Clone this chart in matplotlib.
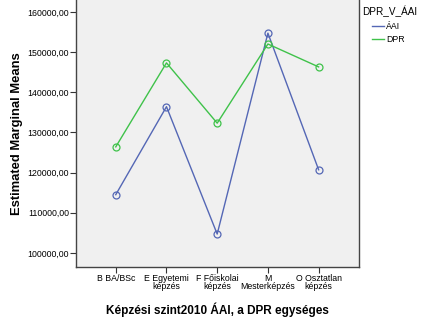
import numpy as np
import matplotlib.pyplot as plt
from matplotlib.lines import Line2D

plt.rcParams['font.family'] = ['Liberation Sans', 'DejaVu Sans']

categories = ['B BA/BSc', 'E Egyetemi\nképzés', 'F Főiskolai\nképzés', 'M\nMesterképzés', 'O Osztatlan\nképzés']
aai = [114500, 136400, 104700, 154700, 120700]
dpr = [126400, 147300, 132300, 152000, 146300]
yticks = [100000, 110000, 120000, 130000, 140000, 150000, 160000]

blue = '#5467b5'
green = '#3fc24a'

fig = plt.figure(figsize=[4.21, 3.19], dpi=100)
ax = fig.add_axes([0.181, 0.163, 0.671, 0.837])
ax.set_facecolor('#f0f0f0')

x = np.arange(len(categories))
ax.plot(x, aai, color=blue, lw=1, marker='o', ms=5, mfc='none', mec=blue, mew=0.9)
ax.plot(x, dpr, color=green, lw=1, marker='o', ms=5, mfc='none', mec=green, mew=0.9)

ax.set_xlim(-0.78, 4.79)
ax.set_ylim(96500, 162950)
ax.set_xticks(x)
ax.set_xticklabels(categories, fontsize=6.3, linespacing=0.85)
ax.set_yticks(yticks)
ax.set_yticklabels(['%d,00' % v for v in yticks], fontsize=6.3)
ax.tick_params(direction='out', length=4, width=0.8, color='#333333', pad=1)
for s in ax.spines.values():
    s.set_color('#444444')
    s.set_linewidth(1)
ax.spines['top'].set_visible(False)

ax.set_ylabel('Estimated Marginal Means', fontsize=9.4, fontweight='bold', labelpad=3)
ax.set_xlabel('Képzési szint2010 ÁAI, a DPR egységes', fontsize=8.5, fontweight='bold', labelpad=8)

# legend: title as text, entries indented below it
fig.text(362/421, 1 - 11/319, 'DPR_V_ÁAI', fontsize=7.2, va='center', ha='left')
handles = [Line2D([], [], color=blue, lw=1), Line2D([], [], color=green, lw=1)]
fig.legend(handles, ['ÁAI', 'DPR'], loc='upper left',
           bbox_to_anchor=(372/421, 1 - 22/319), frameon=False, fontsize=6.3,
           handlelength=1.4, handletextpad=0.2, labelspacing=0.45, borderaxespad=0,
           borderpad=0)

fig.savefig('out.png', dpi=100)
